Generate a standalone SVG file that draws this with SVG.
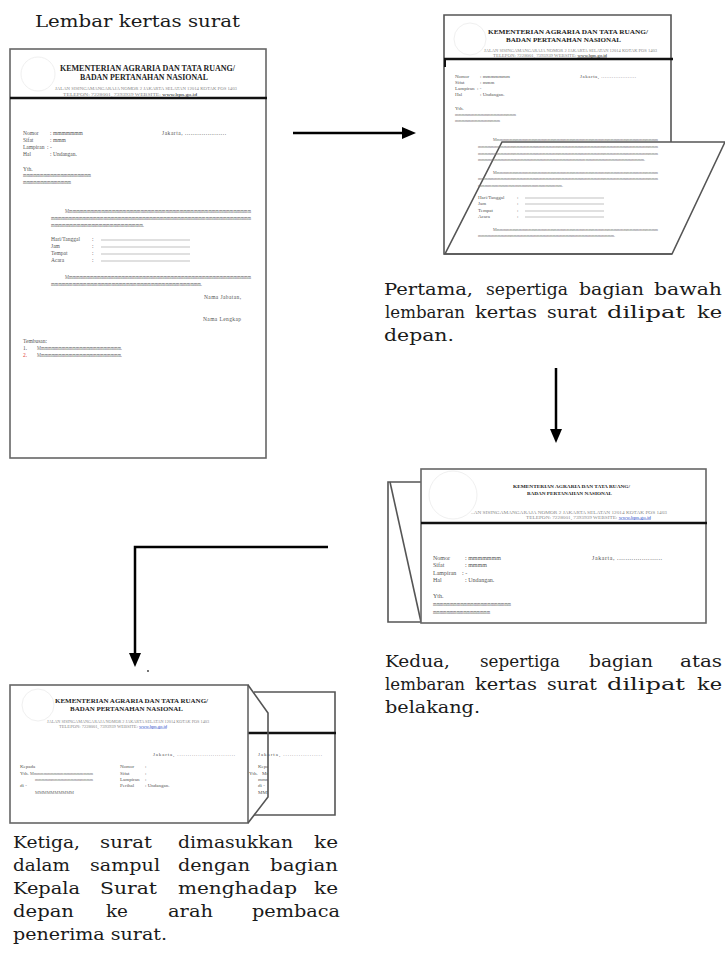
<svg xmlns="http://www.w3.org/2000/svg" width="725" height="960" viewBox="0 0 725 960">
  <style>
    .cap { font-family: "DejaVu Serif", "Liberation Serif", serif; font-size: 17px; fill: #1a1a1a; }
    .hd { font-family: "Liberation Serif", serif; font-weight: bold; fill: #222; }
    .tx { font-family: "Liberation Serif", serif; fill: #555; }
    .fill { font-family: "Liberation Serif", serif; fill: #6e6e6e; }
    .addr { font-family: "Liberation Serif", serif; fill: #888; }
    .link { fill: #3355cc; text-decoration: underline; }
    .paper { fill: #fff; stroke: #666; stroke-width: 1.6; }
    .edge { fill: none; stroke: #555; stroke-width: 1.6; }
    .rule { stroke: #111; stroke-width: 2.4; }
    .blank { stroke: #999; stroke-width: 0.6; }
    .logo { fill: none; stroke: #f0f0f0; stroke-width: 1; }
    .conn { fill: none; stroke: #000; stroke-width: 2.5; }
  </style>
  <defs>
    <marker id="head" viewBox="0 0 14 12" refX="2" refY="6" markerWidth="14" markerHeight="12" markerUnits="userSpaceOnUse" orient="auto">
      <path d="M0,0 L14,6 L0,12 z" fill="#000"/>
    </marker>
    <clipPath id="peek">
      <rect x="240" y="740" width="28" height="70"/>
    </clipPath>
  </defs>

  <!-- heading above the full sheet -->
  <text class="cap" x="35" y="27" textLength="205" lengthAdjust="spacingAndGlyphs">Lembar kertas surat</text>

  <!-- sheet 1: the complete letter -->
  <g id="sheet-full">
    <rect class="paper" x="10" y="49" width="256" height="409"/>
    <circle class="logo" cx="38" cy="74" r="17"/>
    <line class="rule" x1="10" y1="98" x2="267" y2="98"/>
    <text class="hd" x="60" y="71" font-size="7.5" textLength="175" lengthAdjust="spacingAndGlyphs">KEMENTERIAN AGRARIA DAN TATA RUANG/</text>
    <text class="hd" x="80" y="79.5" font-size="7.5" textLength="128" lengthAdjust="spacingAndGlyphs">BADAN PERTANAHAN NASIONAL</text>
    <text class="addr" x="55" y="90" font-size="3.4" textLength="182" lengthAdjust="spacingAndGlyphs">JALAN SISINGAMANGARAJA NOMOR 2 JAKARTA SELATAN 12014 KOTAK POS 1403</text>
    <text class="addr" x="63" y="96" font-size="3.4" textLength="134" lengthAdjust="spacingAndGlyphs">TELEPON: 7228001, 7393939 WEBSITE: <tspan fill="#222" text-decoration="underline">www.bpn.go.id</tspan></text>

    <g class="tx" font-size="5.5">
      <text x="23" y="135">Nomor</text><text x="50" y="135">: mmmmmmm</text>
      <text x="23" y="142">Sifat</text><text x="50" y="142">: mmm</text>
      <text x="23" y="149">Lampiran</text><text x="47" y="149">: -</text>
      <text x="23" y="156">Hal</text><text x="50" y="156">: Undangan.</text>
      <text x="162" y="135" textLength="64">Jakarta, ......................</text>
      <text x="23" y="171">Yth.</text>
      <text x="51" y="241">Hari/Tanggal</text><text x="92" y="241">:</text>
      <text x="51" y="248">Jam</text><text x="92" y="248">:</text>
      <text x="51" y="255">Tempat</text><text x="92" y="255">:</text>
      <text x="51" y="262">Acara</text><text x="92" y="262">:</text>
      <text x="204" y="299" textLength="37">Nama Jabatan,</text>
      <text x="203" y="321" textLength="38">Nama Lengkap</text>
      <text x="23" y="343">Tembusan:</text>
      <text x="23" y="350">1.</text>
      <text x="23" y="357" fill="#e03a3a">2.</text>
    </g>
    <g class="fill" font-size="5.5">
      <text x="23" y="177" textLength="68" lengthAdjust="spacingAndGlyphs">mmmmmmmmmmmmmmmmmmmm</text>
      <text x="23" y="184" textLength="48" lengthAdjust="spacingAndGlyphs">mmmmmmmmmmmmmm</text>
      <text x="65" y="213" textLength="186" lengthAdjust="spacingAndGlyphs">Mmmmmmmmmmmmmmmmmmmmmmmmmmmmmmmmmmmmmmmmmmmmmmmmmmmm</text>
      <text x="51" y="220" textLength="200" lengthAdjust="spacingAndGlyphs">mmmmmmmmmmmmmmmmmmmmmmmmmmmmmmmmmmmmmmmmmmmmmmmmmmmmmmmmm</text>
      <text x="51" y="227" textLength="93" lengthAdjust="spacingAndGlyphs">mmmmmmmmmmmmmmmmmmmmmmmmm.</text>
      <text x="65" y="279" textLength="186" lengthAdjust="spacingAndGlyphs">Mmmmmmmmmmmmmmmmmmmmmmmmmmmmmmmmmmmmmmmmmmmmmmmmmmmmm</text>
      <text x="51" y="286" textLength="151" lengthAdjust="spacingAndGlyphs">mmmmmmmmmmmmmmmmmmmmmmmmmmmmmmmmmmmmmmmmmm.</text>
      <text x="37" y="350" textLength="85" lengthAdjust="spacingAndGlyphs">Mmmmmmmmmmmmmmmmmmmmmmmm.</text>
      <text x="37" y="357" textLength="85" lengthAdjust="spacingAndGlyphs">Mmmmmmmmmmmmmmmmmmmmmmmm.</text>
    </g>
    <g class="blank">
      <line x1="101" y1="240" x2="190" y2="240"/>
      <line x1="101" y1="247" x2="190" y2="247"/>
      <line x1="101" y1="254" x2="190" y2="254"/>
      <line x1="101" y1="261" x2="190" y2="261"/>
    </g>
  </g>

  <!-- sheet 2: bottom third folded forward -->
  <g id="sheet-fold-front">
    <rect x="444" y="15" width="227" height="239" fill="#fff"/>
    <circle class="logo" cx="470" cy="39" r="16"/>
    <polyline class="edge" points="671,142 671,15 444,15 444,254 672,254"/>
    <polygon class="edge" points="502,142 725,142 672,254 445,254"/>
    <line class="rule" x1="444" y1="59" x2="673" y2="59"/>
    <line x1="445" y1="59" x2="445" y2="67" stroke="#111" stroke-width="2"/>
    <text class="hd" x="488" y="34" font-size="6.8" textLength="160" lengthAdjust="spacingAndGlyphs">KEMENTERIAN AGRARIA DAN TATA RUANG/</text>
    <text class="hd" x="506" y="42" font-size="6.8" textLength="115" lengthAdjust="spacingAndGlyphs">BADAN PERTANAHAN NASIONAL</text>
    <text class="addr" x="484" y="52" font-size="3" textLength="173" lengthAdjust="spacingAndGlyphs">JALAN SISINGAMANGARAJA NOMOR 2 JAKARTA SELATAN 12014 KOTAK POS 1403</text>
    <text class="addr" x="493" y="56.5" font-size="3" textLength="114" lengthAdjust="spacingAndGlyphs">TELEPON: 7228001, 7393939 WEBSITE: <tspan fill="#222" text-decoration="underline">www.bpn.go.id</tspan></text>

    <g class="tx" font-size="5">
      <text x="455" y="78">Nomor</text><text x="480" y="78">: mmmmmmm</text>
      <text x="455" y="84">Sifat</text><text x="480" y="84">: mmm</text>
      <text x="455" y="90">Lampiran</text><text x="477" y="90">: -</text>
      <text x="455" y="96">Hal</text><text x="480" y="96">: Undangan.</text>
      <text x="580" y="78" textLength="56">Jakarta, ....................</text>
      <text x="455" y="110">Yth.</text>
      <text x="478" y="199">Hari/Tanggal</text><text x="517" y="199">:</text>
      <text x="478" y="205">Jam</text><text x="517" y="205">:</text>
      <text x="478" y="212">Tempat</text><text x="517" y="212">:</text>
      <text x="478" y="218">Acara</text><text x="517" y="218">:</text>
    </g>
    <g class="fill" font-size="5">
      <text x="455" y="116" textLength="61" lengthAdjust="spacingAndGlyphs">mmmmmmmmmmmmmmmmmmm</text>
      <text x="455" y="122" textLength="45" lengthAdjust="spacingAndGlyphs">mmmmmmmmmmmmmm</text>
      <text x="493" y="141" textLength="165" lengthAdjust="spacingAndGlyphs">Mmmmmmmmmmmmmmmmmmmmmmmmmmmmmmmmmmmmmmmmmmmmmmmmmmmm</text>
      <text x="478" y="148" textLength="180" lengthAdjust="spacingAndGlyphs">mmmmmmmmmmmmmmmmmmmmmmmmmmmmmmmmmmmmmmmmmmmmmmmmmmmmmmmm</text>
      <text x="478" y="154.5" textLength="180" lengthAdjust="spacingAndGlyphs">mmmmmmmmmmmmmmmmmmmmmmmmmmmmmmmmmmmmmmmmmmmmmmmmmmmmmmmm</text>
      <text x="478" y="161" textLength="167" lengthAdjust="spacingAndGlyphs">mmmmmmmmmmmmmmmmmmmmmmmmmmmmmmmmmmmmmmmmmmmmmmmmmmm.</text>
      <text x="493" y="174" textLength="165" lengthAdjust="spacingAndGlyphs">Mmmmmmmmmmmmmmmmmmmmmmmmmmmmmmmmmmmmmmmmmmmmmmmmmmmm</text>
      <text x="478" y="180" textLength="180" lengthAdjust="spacingAndGlyphs">mmmmmmmmmmmmmmmmmmmmmmmmmmmmmmmmmmmmmmmmmmmmmmmmmmmmmmmm</text>
      <text x="478" y="187" textLength="85" lengthAdjust="spacingAndGlyphs">mmmmmmmmmmmmmmmmmmmmmmmmm.</text>
      <text x="493" y="231" textLength="165" lengthAdjust="spacingAndGlyphs">Mmmmmmmmmmmmmmmmmmmmmmmmmmmmmmmmmmmmmmmmmmmmmmmmmmmm</text>
      <text x="478" y="237" textLength="137" lengthAdjust="spacingAndGlyphs">mmmmmmmmmmmmmmmmmmmmmmmmmmmmmmmmmmmmmmmmmm.</text>
    </g>
    <g class="blank">
      <line x1="525" y1="198" x2="604" y2="198"/>
      <line x1="525" y1="204" x2="604" y2="204"/>
      <line x1="525" y1="211" x2="604" y2="211"/>
      <line x1="525" y1="217" x2="604" y2="217"/>
    </g>
  </g>

  <!-- sheet 3: top third folded back -->
  <g id="sheet-fold-back">
    <polyline class="edge" points="421,482 388,482 388,622 421,622"/>
    <line class="edge" x1="390" y1="482" x2="421" y2="622"/>
    <rect class="paper" x="421" y="469" width="285" height="154" stroke="#444"/>
    <circle class="logo" cx="453" cy="495" r="24"/>
    <line class="rule" x1="421" y1="523" x2="707" y2="523"/>
    <text class="hd" x="513" y="488" font-size="4.4" textLength="117" lengthAdjust="spacingAndGlyphs">KEMENTERIAN AGRARIA DAN TATA RUANG/</text>
    <text class="hd" x="527" y="495" font-size="4.4" textLength="85" lengthAdjust="spacingAndGlyphs">BADAN PERTANAHAN NASIONAL</text>
    <text class="addr" x="471" y="513.5" font-size="3.6" textLength="196" lengthAdjust="spacingAndGlyphs">..AN SISINGAMANGARAJA NOMOR 2 JAKARTA SELATAN 12014 KOTAK POS 1403</text>
    <text class="addr" x="526" y="518.5" font-size="3.6" textLength="125" lengthAdjust="spacingAndGlyphs">TELEPON: 7228001, 7393939 WEBSITE: <tspan class="link">www.bpn.go.id</tspan></text>
    <g class="tx" font-size="6">
      <text x="433" y="560">Nomor</text><text x="465" y="560">: mmmmmmm</text>
      <text x="433" y="567">Sifat</text><text x="465" y="567">: mmmm</text>
      <text x="433" y="575">Lampiran</text><text x="462" y="575">: -</text>
      <text x="433" y="582">Hal</text><text x="465" y="582">: Undangan.</text>
      <text x="592" y="560" textLength="70">Jakarta, ......................</text>
      <text x="433" y="598">Yth.</text>
    </g>
    <g class="fill" font-size="6">
      <text x="433" y="606" textLength="78" lengthAdjust="spacingAndGlyphs">mmmmmmmmmmmmmmmmmmmmmmm</text>
      <text x="433" y="614" textLength="57" lengthAdjust="spacingAndGlyphs">mmmmmmmmmmmmmmmmm</text>
    </g>
  </g>

  <!-- sheet 4: letter slid into the envelope -->
  <g id="envelope">
    <polyline class="edge" points="254,692 335,692 335,815 254,815"/>
    <line class="rule" x1="10" y1="733" x2="336" y2="733"/>
    <g class="tx" font-size="5">
      <text x="258" y="756" textLength="64">Jakarta, ..................</text>
      <g clip-path="url(#peek)">
        <text x="258" y="768">Kepada</text>
        <text x="249" y="775">Yth.</text><text x="262" y="775">Mmmmm</text>
        <text x="258" y="781">mmmm</text>
        <text x="258" y="787">di -</text>
        <text x="258" y="794">MMMM</text>
      </g>
    </g>
    <rect class="paper" x="10" y="685" width="238" height="138" fill="none"/>
    <polyline class="edge" points="248,685 268,713 268,797 248,823"/>
    <circle class="logo" cx="38" cy="705" r="16"/>
    <text class="hd" x="55" y="703" font-size="6.6" textLength="153" lengthAdjust="spacingAndGlyphs">KEMENTERIAN AGRARIA DAN TATA RUANG/</text>
    <text class="hd" x="70" y="711" font-size="6.6" textLength="113" lengthAdjust="spacingAndGlyphs">BADAN PERTANAHAN NASIONAL</text>
    <text class="addr" x="47" y="722.5" font-size="3" textLength="162" lengthAdjust="spacingAndGlyphs">JALAN SISINGAMANGARAJA NOMOR 2 JAKARTA SELATAN 12014 KOTAK POS 1403</text>
    <text class="addr" x="59" y="727.5" font-size="3" textLength="108" lengthAdjust="spacingAndGlyphs">TELEPON: 7228001, 7393939 WEBSITE: <tspan class="link">www.bpn.go.id</tspan></text>
    <g class="tx" font-size="5">
      <text x="153" y="756" textLength="82">Jakarta, ............................</text>
      <text x="20" y="768">Kepada</text>
      <text x="20" y="775">Yth.</text>
      <text x="20" y="787">di -</text>
      <text x="120" y="768">Nomor</text><text x="145" y="768">:</text>
      <text x="120" y="775">Sifat</text><text x="145" y="775">:</text>
      <text x="120" y="781">Lampiran</text><text x="145" y="781">:</text>
      <text x="120" y="787">Perihal</text><text x="145" y="787">: Undangan.</text>
    </g>
    <g class="fill" font-size="5">
      <text x="30" y="775" textLength="63" lengthAdjust="spacingAndGlyphs">Mmmmmmmmmmmmmmmmmmm</text>
      <text x="35" y="781" textLength="58" lengthAdjust="spacingAndGlyphs">mmmmmmmmmmmmmmmmmm</text>
      <text x="35" y="794" textLength="39" lengthAdjust="spacingAndGlyphs">MMMMMMMMMM</text>
    </g>
  </g>

  <!-- connectors between the folding steps -->
  <g id="connectors">
    <line class="conn" x1="293" y1="133" x2="404" y2="133" marker-end="url(#head)"/>
    <line class="conn" x1="556" y1="368" x2="556" y2="431" marker-end="url(#head)"/>
    <path class="conn" d="M328,547 H135 V655" marker-end="url(#head)"/>
    <circle cx="148" cy="671" r="0.9" fill="#333"/>
  </g>

  <!-- step captions, justified word by word -->
  <g id="caption-1" class="cap" lengthAdjust="spacingAndGlyphs">
    <text x="384" y="295" textLength="89" lengthAdjust="spacingAndGlyphs">Pertama,</text>
    <text x="486" y="295" textLength="82" lengthAdjust="spacingAndGlyphs">sepertiga</text>
    <text x="579" y="295" textLength="65" lengthAdjust="spacingAndGlyphs">bagian</text>
    <text x="654" y="295" textLength="68" lengthAdjust="spacingAndGlyphs">bawah</text>
    <text x="385" y="318" textLength="80" lengthAdjust="spacingAndGlyphs">lembaran</text>
    <text x="475" y="318" textLength="62" lengthAdjust="spacingAndGlyphs">kertas</text>
    <text x="547" y="318" textLength="50" lengthAdjust="spacingAndGlyphs">surat</text>
    <text x="607" y="318" textLength="78" lengthAdjust="spacingAndGlyphs">dilipat</text>
    <text x="697" y="318" textLength="25" lengthAdjust="spacingAndGlyphs">ke</text>
    <text x="384" y="341" textLength="70" lengthAdjust="spacingAndGlyphs">depan.</text>
  </g>
  <g id="caption-2" class="cap">
    <text x="385" y="667" textLength="65" lengthAdjust="spacingAndGlyphs">Kedua,</text>
    <text x="480" y="667" textLength="80" lengthAdjust="spacingAndGlyphs">sepertiga</text>
    <text x="589" y="667" textLength="64" lengthAdjust="spacingAndGlyphs">bagian</text>
    <text x="680" y="667" textLength="42" lengthAdjust="spacingAndGlyphs">atas</text>
    <text x="385" y="690" textLength="80" lengthAdjust="spacingAndGlyphs">lembaran</text>
    <text x="475" y="690" textLength="62" lengthAdjust="spacingAndGlyphs">kertas</text>
    <text x="547" y="690" textLength="50" lengthAdjust="spacingAndGlyphs">surat</text>
    <text x="607" y="690" textLength="78" lengthAdjust="spacingAndGlyphs">dilipat</text>
    <text x="697" y="690" textLength="25" lengthAdjust="spacingAndGlyphs">ke</text>
    <text x="385" y="713" textLength="95" lengthAdjust="spacingAndGlyphs">belakang.</text>
  </g>
  <g id="caption-3" class="cap">
    <text x="13" y="848" textLength="67" lengthAdjust="spacingAndGlyphs">Ketiga,</text>
    <text x="100" y="848" textLength="52" lengthAdjust="spacingAndGlyphs">surat</text>
    <text x="178" y="848" textLength="115" lengthAdjust="spacingAndGlyphs">dimasukkan</text>
    <text x="314" y="848" textLength="24" lengthAdjust="spacingAndGlyphs">ke</text>
    <text x="13" y="871" textLength="57" lengthAdjust="spacingAndGlyphs">dalam</text>
    <text x="90" y="871" textLength="70" lengthAdjust="spacingAndGlyphs">sampul</text>
    <text x="178" y="871" textLength="72" lengthAdjust="spacingAndGlyphs">dengan</text>
    <text x="270" y="871" textLength="68" lengthAdjust="spacingAndGlyphs">bagian</text>
    <text x="13" y="894" textLength="67" lengthAdjust="spacingAndGlyphs">Kepala</text>
    <text x="100" y="894" textLength="57" lengthAdjust="spacingAndGlyphs">Surat</text>
    <text x="178" y="894" textLength="119" lengthAdjust="spacingAndGlyphs">menghadap</text>
    <text x="314" y="894" textLength="24" lengthAdjust="spacingAndGlyphs">ke</text>
    <text x="13" y="917" textLength="61" lengthAdjust="spacingAndGlyphs">depan</text>
    <text x="106" y="917" textLength="22" lengthAdjust="spacingAndGlyphs">ke</text>
    <text x="168" y="917" textLength="45" lengthAdjust="spacingAndGlyphs">arah</text>
    <text x="252" y="917" textLength="88" lengthAdjust="spacingAndGlyphs">pembaca</text>
    <text x="13" y="940" textLength="154" lengthAdjust="spacingAndGlyphs">penerima surat.</text>
  </g>
</svg>
